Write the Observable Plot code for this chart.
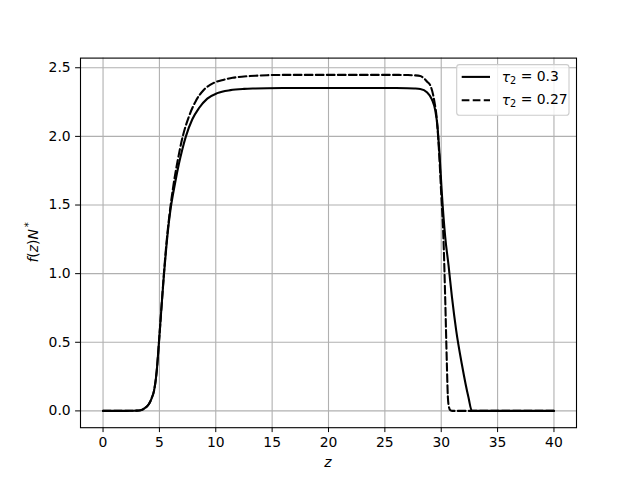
<!DOCTYPE html>
<html><head><meta charset="utf-8">
<script src="https://cdn.jsdelivr.net/npm/d3@7"></script>
<script src="https://cdn.jsdelivr.net/npm/@observablehq/plot@0.6"></script>
<style>body{margin:0;background:#fff;} #chart{width:640px;height:480px;}</style>
</head><body><div id="chart"></div>
<script>
// tau2 = 0.3 (solid)
const zSolid = [0, 1, 2, 2.5, 3.0, 3.34, 3.7, 4.07, 4.3, 4.52, 4.76, 4.96, 5.17, 5.4, 5.6, 5.85, 6.0, 6.38, 6.73, 7.03, 7.35, 7.92, 8.5, 9.25, 10.13, 11.3, 12.5, 13.5, 14.56, 16, 20, 24, 26, 27, 27.6, 28.14, 28.73, 29.17, 29.47, 29.67, 29.85, 30.06, 30.35, 30.65, 30.95, 31.33, 31.83, 32.42, 32.72, 33.5, 36, 40];
const fSolid = [0, 0, 0, 0.001, 0.002, 0.005, 0.02, 0.05, 0.09, 0.146, 0.29, 0.5, 0.74, 0.99, 1.18, 1.38, 1.475, 1.655, 1.80, 1.905, 2.0, 2.125, 2.205, 2.275, 2.315, 2.337, 2.346, 2.349, 2.351, 2.352, 2.352, 2.352, 2.352, 2.351, 2.349, 2.345, 2.322, 2.27, 2.19, 2.07, 1.87, 1.58, 1.27, 1.06, 0.83, 0.585, 0.34, 0.097, 0, 0, 0, 0];
// tau2 = 0.27 (dashed)
const zDashed = [0, 1, 2, 2.5, 3.0, 3.34, 3.7, 4.07, 4.3, 4.52, 4.76, 4.96, 5.17, 5.4, 5.6, 5.85, 6.2, 6.59, 7.07, 7.62, 8.21, 8.95, 9.83, 10.72, 11.5, 12.5, 13.5, 14.56, 16, 20, 24, 26, 27, 27.6, 28.14, 28.73, 29.09, 29.38, 29.62, 29.82, 30.0, 30.2, 30.35, 30.5, 30.59, 30.68, 30.8, 31.0, 33, 36, 40];
const fDashed = [0, 0, 0, 0.001, 0.002, 0.005, 0.02, 0.05, 0.09, 0.146, 0.29, 0.5, 0.74, 1.0, 1.2, 1.40, 1.62, 1.81, 2.0, 2.145, 2.255, 2.34, 2.39, 2.413, 2.427, 2.436, 2.442, 2.446, 2.448, 2.448, 2.448, 2.448, 2.447, 2.445, 2.44, 2.40, 2.36, 2.26, 2.115, 1.87, 1.58, 1.25, 0.83, 0.34, 0.10, 0.03, 0.005, 0, 0, 0, 0];

const xTicks = [0, 5, 10, 15, 20, 25, 30, 35, 40];
const yTicks = [0, 0.5, 1.0, 1.5, 2.0, 2.5];
const legendValues = ["0.3", "0.27"];

const solid = zSolid.map((z, i) => ({z, f: fSolid[i]}));
const dashed = zDashed.map((z, i) => ({z, f: fDashed[i]}));

const W = 640, H = 480, mL = 80, mR = 64, mT = 57.6, mB = 52.8;
const FS = "13.9px";
const grid = {stroke: "#b0b0b0", strokeOpacity: 1, strokeWidth: 1.1};

const svg = Plot.plot({
  width: W, height: H,
  marginLeft: mL, marginRight: mR, marginTop: mT, marginBottom: mB,
  style: {fontFamily: "DejaVu Sans", fontSize: FS, color: "black", background: "white", overflow: "visible"},
  x: {domain: [-2, 42]},
  y: {domain: [-0.1224, 2.5704]},
  marks: [
    Plot.gridX(xTicks, grid),
    Plot.gridY(yTicks, grid),
    Plot.line(solid, {x: "z", y: "f", stroke: "black", strokeWidth: 2.08, curve: "monotone-x"}),
    Plot.line(dashed, {x: "z", y: "f", stroke: "black", strokeWidth: 2.08, strokeDasharray: "7.7,3.33", curve: "monotone-x"}),
    Plot.frame({stroke: "black", strokeWidth: 1.1}),
    Plot.axisX(xTicks, {tickSize: 4.9, tickPadding: 4.9, label: null, tickFormat: d => String(d), fontSize: FS}),
    Plot.axisY(yTicks, {tickSize: 4.9, tickPadding: 4.9, label: null, tickFormat: d => d.toFixed(1), fontSize: FS})
  ]
});
document.getElementById("chart").appendChild(svg);

const s = d3.select(svg);
// x label
const xl = s.append("text").attr("x", mL + (W - mL - mR) / 2).attr("y", 462)
  .attr("text-anchor", "middle").attr("dominant-baseline", "central")
  .style("font-family", "DejaVu Sans").style("font-size", FS).attr("fill", "black");
xl.append("tspan").style("font-style", "italic").text("z");
// y label
const cy = mT + (H - mT - mB) / 2;
const yl = s.append("text").attr("transform", `translate(33,${cy}) rotate(-90)`)
  .attr("text-anchor", "middle").attr("dominant-baseline", "central")
  .style("font-family", "DejaVu Sans").style("font-size", FS).attr("fill", "black");
yl.append("tspan").style("font-style", "italic").text("f");
yl.append("tspan").text("(");
yl.append("tspan").style("font-style", "italic").text("z");
yl.append("tspan").text(")");
yl.append("tspan").style("font-style", "italic").text("N");
yl.append("tspan").attr("dx", "2").attr("dy", "-0.5em").style("font-size", "10px").text("*");

// legend (upper right)
const lgW = 112.3, lgH = 50.7;
const lgX = W - mR - 7 - lgW, lgY = mT + 7;
const lg = s.append("g");
lg.append("rect").attr("x", lgX).attr("y", lgY).attr("width", lgW).attr("height", lgH)
  .attr("rx", 2.8).attr("fill", "white").attr("fill-opacity", 0.8)
  .attr("stroke", "#cccccc").attr("stroke-width", 1.1);
legendValues.forEach((v, i) => {
  const yy = lgY + 12.3 + i * 23.4;
  lg.append("line").attr("x1", lgX + 5).attr("x2", lgX + 33.3).attr("y1", yy).attr("y2", yy)
    .attr("stroke", "black").attr("stroke-width", 2.08)
    .attr("stroke-dasharray", i === 1 ? "7.7,3.33" : null);
  const t = lg.append("text").attr("x", lgX + 45).attr("y", yy).attr("dominant-baseline", "central")
    .attr("text-anchor", "start")
    .style("font-family", "DejaVu Sans").style("font-size", FS).attr("fill", "black");
  t.append("tspan").style("font-style", "italic").text("τ");
  t.append("tspan").attr("dy", "0.3em").style("font-size", "9.7px").text("2");
  t.append("tspan").attr("dy", "-0.3em").text(" = " + v);
});
</script>
</body></html>
